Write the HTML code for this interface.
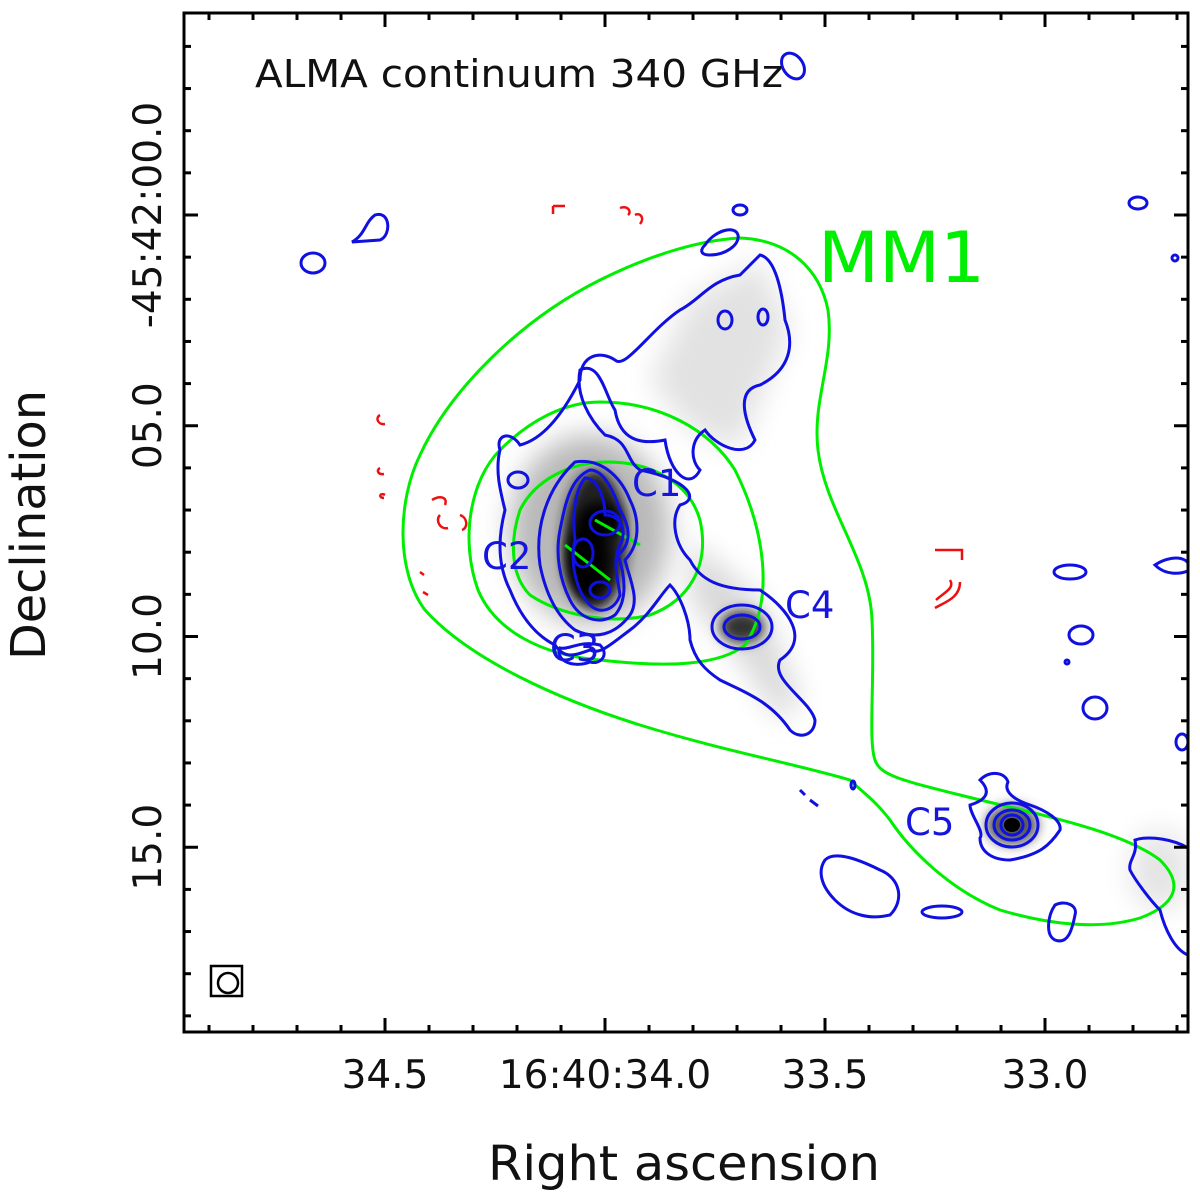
<!DOCTYPE html>
<html><head><meta charset="utf-8"><style>
html,body{margin:0;padding:0;background:#fff;}
svg{display:block;font-family:"DejaVu Sans","Liberation Sans",sans-serif;}
</style></head><body>
<svg id="chart" width="1200" height="1199" viewBox="0 0 1200 1199">
<defs>
<filter id="bl" x="-50%" y="-50%" width="200%" height="200%"><feGaussianBlur stdDeviation="14"/></filter>
<filter id="bl2" x="-50%" y="-50%" width="200%" height="200%"><feGaussianBlur stdDeviation="6"/></filter>
<clipPath id="clip"><rect x="184" y="13" width="1004" height="1019"/></clipPath>
</defs>
<rect x="0" y="0" width="1200" height="1199" fill="#fff"/>
<g clip-path="url(#clip)">
  <g>
    <path d="M690,300 L760,260 L790,330 L760,400 L740,450 L690,430 L650,380 Z" fill="#e2e2e2" filter="url(#bl)"/>
    <ellipse cx="590" cy="530" rx="80" ry="95" fill="#b8b8b8" filter="url(#bl)"/>
    <ellipse cx="595" cy="540" rx="32" ry="70" fill="#222" filter="url(#bl2)"/>
    <ellipse cx="600" cy="520" rx="22" ry="18" fill="#000" filter="url(#bl2)"/>
    <ellipse cx="588" cy="560" rx="22" ry="40" fill="#000" filter="url(#bl2)"/>
    <path d="M690,540 L760,600 L800,700 L780,720 L740,660 L690,600 Z" fill="#d8d8d8" filter="url(#bl)"/>
    <ellipse cx="742" cy="627" rx="22" ry="16" fill="#333" filter="url(#bl2)"/>
    <ellipse cx="1012" cy="825" rx="26" ry="20" fill="#555" filter="url(#bl2)"/>
    <ellipse cx="1012" cy="825" rx="8" ry="7" fill="#000"/>
    <ellipse cx="1160" cy="870" rx="30" ry="40" fill="#e4e4e4" filter="url(#bl)"/>
  </g>
  <g fill="none" stroke="#00ee00" stroke-width="3">
    <path d="M740,238 C790,240 820,270 828,310 C835,360 812,400 818,450 C825,510 870,560 872,620 C875,680 868,740 875,760 C880,775 900,780 960,795 C1040,815 1120,830 1160,860 C1185,885 1175,905 1140,918 C1100,930 1050,925 1000,910 C950,890 910,850 890,820 C875,800 860,790 850,780 C800,765 720,750 640,725 C560,700 470,660 425,610 C395,570 398,500 420,455 C450,390 520,320 600,280 C650,255 700,240 740,238 Z"/>
    <path d="M600,402 C660,402 710,430 735,470 C765,530 775,600 745,645 C720,665 670,668 600,660 C540,655 495,630 478,590 C460,540 470,480 500,450 C530,420 565,402 600,402 Z"/>
    <path d="M607,462 C655,462 690,485 700,520 C710,565 690,600 650,615 C610,625 560,615 530,595 C510,575 510,540 520,510 C535,480 570,462 607,462 Z"/>
    <path d="M565,545 L610,580 M595,520 L640,545"/>
  </g>
  <g fill="none" stroke="#1010e0" stroke-width="3">
    <path d="M760,255 C775,258 782,290 785,320 C795,345 790,370 760,385 C735,390 745,420 755,440 C745,460 715,445 705,430 C690,440 690,460 700,470 C690,490 670,475 665,440 C640,445 620,440 615,410 C605,395 600,360 580,370 C575,395 590,420 605,435 C630,440 625,460 640,470 C690,480 700,500 680,505 C670,520 675,545 690,560 C700,580 720,590 760,590 C790,610 810,640 780,660 C770,680 810,700 815,720 C815,735 800,740 790,730 C770,700 740,690 720,680 C705,670 695,660 690,640 C690,620 680,595 670,585 C660,595 650,615 630,630 C610,645 600,655 590,650 C575,655 565,660 555,645 C535,635 520,615 510,590 C495,560 500,530 505,510 C500,490 495,470 500,450 C495,435 510,430 520,445 C540,440 560,420 580,380 C580,355 600,350 615,360 C625,370 650,330 680,310 C700,300 710,280 740,275 Z"/>
    <path d="M575,462 C600,458 620,475 630,500 C640,520 640,545 625,560 C630,580 640,600 630,615 C615,635 595,640 575,630 C555,615 545,590 540,565 C535,530 545,490 575,462 Z"/>
    <path d="M590,470 C605,470 615,495 620,510 C632,530 630,545 618,555 C625,575 628,600 615,615 C600,625 580,620 570,600 C560,580 555,555 560,530 C565,505 570,478 590,470 Z"/>
    <path d="M585,478 C598,478 605,500 605,515 C620,515 628,530 620,545 C612,560 618,580 620,595 C615,610 600,615 590,605 C575,590 570,560 575,540 C572,515 575,490 585,478 Z"/>
    <ellipse cx="605" cy="523" rx="15" ry="12"/>
    <ellipse cx="583" cy="553" rx="10" ry="14"/>
    <ellipse cx="600" cy="590" rx="10" ry="8"/>
    <ellipse cx="518" cy="480" rx="10" ry="8"/>
    <path d="M560,648 C570,650 580,640 600,645 C610,655 600,665 590,662 C575,668 555,662 560,648 Z"/>
    <ellipse cx="742" cy="627" rx="30" ry="22"/>
    <ellipse cx="742" cy="627" rx="18" ry="12"/>
    <ellipse cx="725" cy="320" rx="7" ry="9"/>
    <ellipse cx="763" cy="317" rx="5" ry="8"/>
    <ellipse cx="740" cy="210" rx="7" ry="5"/>
    <path d="M705,245 C715,230 735,225 738,235 C740,245 725,255 710,255 C700,255 700,250 705,245 Z"/>
    <path d="M375,215 C390,210 392,235 380,240 L352,242 C365,235 365,222 375,215 Z"/>
    <ellipse cx="313" cy="263" rx="12" ry="10"/>
    <ellipse cx="793" cy="66" rx="10" ry="14" transform="rotate(-35 793 66)"/>
    <ellipse cx="1138" cy="203" rx="9" ry="6"/>
    <ellipse cx="1175" cy="258" rx="3" ry="3"/>
    <ellipse cx="1070" cy="572" rx="16" ry="7"/>
    <path d="M1155,565 C1170,555 1190,555 1190,570 C1180,575 1165,575 1155,565 Z"/>
    <ellipse cx="1081" cy="635" rx="12" ry="9"/>
    <ellipse cx="1095" cy="708" rx="12" ry="11"/>
    <ellipse cx="1067" cy="662" rx="2" ry="2"/>
    <ellipse cx="1182" cy="742" rx="6" ry="8"/>
    <path d="M800,790 L805,795 M810,800 L818,806"/>
    <ellipse cx="853" cy="785" rx="2" ry="4"/>
    <path d="M980,780 C990,770 1005,772 1008,782 C1003,792 1015,800 1030,805 C1045,810 1062,820 1060,830 C1050,845 1040,855 1010,860 C990,860 980,850 980,838 C985,832 970,815 970,805 C980,802 995,795 980,780 Z"/>
    <ellipse cx="1012" cy="825" rx="26" ry="22"/>
    <ellipse cx="1012" cy="825" rx="18" ry="15"/>
    <ellipse cx="1012" cy="825" rx="11" ry="10"/>
    <path d="M825,860 C835,850 860,860 880,870 C900,878 905,900 890,915 C870,920 850,915 835,900 C820,885 818,870 825,860 Z"/>
    <ellipse cx="942" cy="912" rx="20" ry="6"/>
    <path d="M1055,905 C1065,900 1078,905 1075,915 C1072,930 1068,945 1055,940 C1045,935 1048,915 1055,905 Z"/>
    <path d="M1135,840 C1150,835 1175,840 1188,848 L1188,955 C1175,950 1165,930 1160,910 C1150,900 1135,880 1130,870 C1128,860 1138,855 1135,840 Z"/>
  </g>
  <g fill="none" stroke="#ee1010" stroke-width="2.5">
    <path d="M553,206 L565,206 M553,206 L553,214"/>
    <path d="M620,208 C628,205 632,212 628,215 M635,215 C640,212 645,218 640,224"/>
    <path d="M380,415 C375,418 378,425 385,424"/>
    <path d="M380,468 C376,470 378,475 384,474 M385,495 C380,492 378,498 384,498"/>
    <path d="M432,500 C440,495 448,497 445,505 M440,515 C435,520 440,530 448,528 M460,515 C468,518 468,528 462,530"/>
    <path d="M420,572 L424,575 M423,592 L428,595"/>
    <path d="M935,550 L962,550 L962,560 M936,600 C945,592 955,588 950,580 M935,608 C945,602 960,598 960,582"/>
  </g>
</g>
<g id="axes"></g>
<rect x="184" y="13" width="1004" height="1019" fill="none" stroke="#000" stroke-width="3"/>
<rect x="211" y="966" width="31" height="30" fill="none" stroke="#000" stroke-width="2.5"/>
<ellipse cx="228" cy="983" rx="10" ry="10" fill="none" stroke="#000" stroke-width="2.5"/>
<text x="255" y="87" font-size="38" textLength="528" lengthAdjust="spacingAndGlyphs" fill="#111">ALMA continuum 340 GHz</text>
<text x="818" y="282" font-size="70" textLength="167" lengthAdjust="spacingAndGlyphs" fill="#00ee00">MM1</text>
<g font-size="37" fill="#1515dd">
  <text x="632" y="496">C1</text>
  <text x="482" y="569">C2</text>
  <text x="550" y="661">C3</text>
  <text x="785" y="618">C4</text>
  <text x="905" y="835">C5</text>
</g>
<text x="684" y="1180" font-size="48" text-anchor="middle" textLength="392" lengthAdjust="spacingAndGlyphs" fill="#111">Right ascension</text>
<text x="0" y="0" font-size="48" text-anchor="middle" textLength="270" lengthAdjust="spacingAndGlyphs" fill="#111" transform="translate(45,525) rotate(-90)">Declination</text>
</svg>
<script>
const raTickValues = [34.5, 34.0, 33.5, 33.0];
const raTickLabels = ["34.5", "16:40:34.0", "33.5", "33.0"];
const decTickValues = [0, 5, 10, 15];
const decTickLabels = ["-45:42:00.0", "05.0", "10.0", "15.0"];
const raMinorRange = [32.7, 34.9];
const decMinorRange = [-4, 19];

const xOf = v => 605 - (v - 34.0) * 440;
const yOf = v => 215 + v * 42.15;
const NS = "http://www.w3.org/2000/svg";
const g = document.getElementById('axes');
function ln(x1,y1,x2,y2){
  const l = document.createElementNS(NS,'line');
  l.setAttribute('x1',x1);l.setAttribute('y1',y1);l.setAttribute('x2',x2);l.setAttribute('y2',y2);
  l.setAttribute('stroke','#000');l.setAttribute('stroke-width','3');
  
  
  g.appendChild(l);
}
for (let i = Math.round(raMinorRange[0]*10); i <= Math.round(raMinorRange[1]*10); i++) {
  const v = i/10, x = xOf(v);
  if (x < 186 || x > 1186) continue;
  const major = i % 5 === 0, len = major ? 14 : 7;
  ln(x,1032,x,1032-len); ln(x,13,x,13+len);
}
for (let v = decMinorRange[0]; v <= decMinorRange[1]; v++) {
  const y = yOf(v);
  if (y < 15 || y > 1030) continue;
  const major = v % 5 === 0, len = major ? 14 : 7;
  ln(184,y,184+len,y); ln(1188,y,1188-len,y);
}
raTickValues.forEach((v,i)=>{
  const t = document.createElementNS(NS,'text');
  t.setAttribute('x', xOf(v)); t.setAttribute('y', 1088);
  t.setAttribute('font-size','39'); t.setAttribute('text-anchor','middle'); t.setAttribute('fill','#111');
  t.textContent = raTickLabels[i];
  
  
  g.appendChild(t);
});
decTickValues.forEach((v,i)=>{
  const t = document.createElementNS(NS,'text');
  t.setAttribute('x', 0); t.setAttribute('y', 0);
  t.setAttribute('font-size','39'); t.setAttribute('text-anchor','middle'); t.setAttribute('fill','#111');
  t.setAttribute('transform','translate(161,'+yOf(v)+') rotate(-90)');
  t.textContent = decTickLabels[i];
  
  
  g.appendChild(t);
});
</script>
</body></html>
